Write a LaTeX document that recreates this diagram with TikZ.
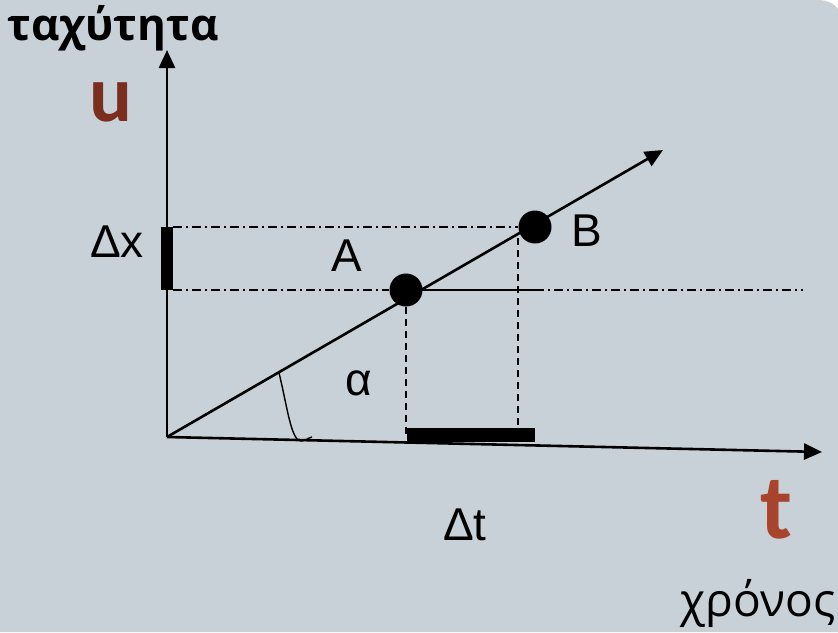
\documentclass[tikz,border=0pt]{standalone}
\usepackage{fontspec}
\setmainfont{Liberation Sans}
\newfontfamily\grfont{Open Sans}
\newfontfamily\varfont{Carlito}
\usetikzlibrary{arrows.meta,positioning,calc}
\definecolor{bgcol}{HTML}{C7D1D7}
\definecolor{ucol}{HTML}{7B2E1E}
\definecolor{tcol}{HTML}{A8432C}
\tikzset{
	axis/.style={line width=2.6pt, -{Triangle[length=18pt,width=16pt]}},
	pt/.style={circle, fill=black, inner sep=0pt, minimum size=33pt},
	guide/.style={line width=1.6pt, dash pattern=on 9pt off 4pt on 2pt off 4pt},
	drop/.style={line width=1.6pt, dash pattern=on 7pt off 5pt},
	lbl/.style={font=\fontsize{46}{50}\selectfont, inner sep=0pt},
	grlbl/.style={font=\grfont\fontsize{46}{50}\selectfont, inner sep=0pt},
	varlbl/.style={font=\varfont\bfseries\fontsize{80}{84}\selectfont, inner sep=0pt},
}
\begin{document}
\begin{tikzpicture}[x=1pt, y=-1pt]
				\useasboundingbox (0,0) rectangle (838,632);
				\fill[white] (0,0) rectangle (838,632);
				\fill[bgcol] (0,0) -- (818,0) .. controls (827,0) and (835,4) .. (838,9) -- (838,632) -- (0,632) -- cycle;
				% axes
				\coordinate (o) at (167,437);
				\coordinate (ytip) at (167,50);
				\coordinate (ttip) at (822,452);
				\coordinate (ltip) at (663,150);
				\draw[axis] (o) -- (ytip);
				\draw[axis] (o) -- (ttip);
				% points
				\node[pt] at (406,290) (pa) {};
				\node[pt] at (535,227) (pb) {};
				\draw[axis] (o) -- (ltip);
				% guides
				\coordinate (xlo) at (173,290);
				\coordinate (xhi) at (173,227);
				\coordinate (gend) at (803,290);
				\coordinate (bx) at (535,290);
				\draw[guide] (xhi) -- (pb.west);
				\draw[guide] (xlo) -- (pa.west);
				\draw[line width=1.6pt] (pa.east) -- (bx);
				\draw[guide] (bx) -- (gend);
				\coordinate (adown) at (406,437);
				\coordinate (btop) at (518,238);
				\coordinate (bdown) at (518,441);
				\draw[drop] (pa.south) -- (adown);
				\draw[drop] (btop) -- (bdown);
				% bars
				\fill (161,227) rectangle (173,290);
				\fill (407,428) rectangle (535,442);
				% angle
				\draw[line width=1.4pt] (279,373) .. controls (287,405) and (291,441) .. (301,441) .. controls (305,441) and (308,438) .. (312,437);
				% labels
				\node[grlbl, font=\grfont\bfseries\fontsize{44}{48}\selectfont] at (113,28) (vel) {ταχύτητα};
				\node[varlbl, text=ucol] at (111,102) (u) {u};
				\node[varlbl, text=tcol, font=\varfont\bfseries\fontsize{92}{96}\selectfont] at (776,510) (t) {t};
				\node[grlbl] at (758,603) (time) {χρόνος};
				\node[lbl] at (117,242) (dx) {Δx};
				\node[lbl] at (347,256) (la) {A};
				\node[lbl] at (587,231) (lb) {B};
				\node[lbl] at (359,383) (alpha) {α};
				\node[lbl] at (465,525) (dt) {Δt};
\end{tikzpicture}
\end{document}
